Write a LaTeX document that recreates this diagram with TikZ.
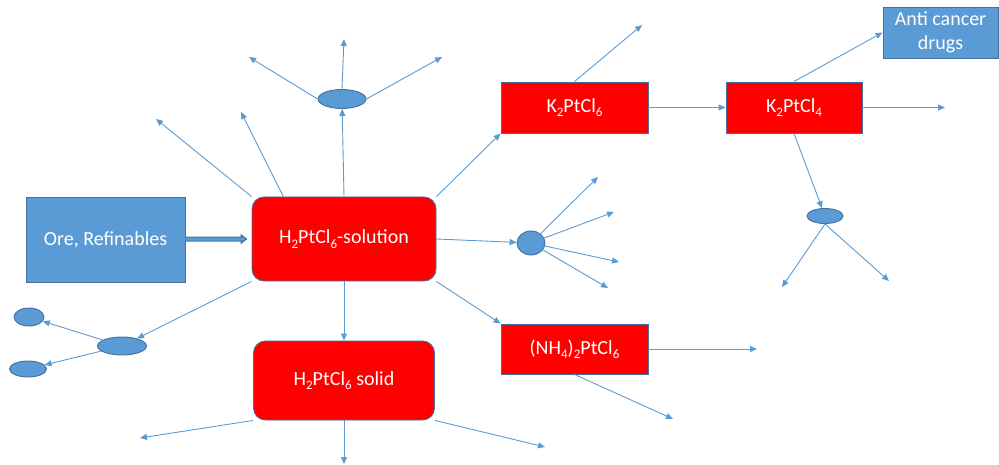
\documentclass[tikz,border=0pt]{standalone}
\usepackage{fontspec}
\setmainfont{Carlito}
\usepackage{tikz}
\usetikzlibrary{arrows.meta,shapes.geometric}
\definecolor{bfill}{HTML}{5B9BD5}
\definecolor{bline}{HTML}{41719C}
\definecolor{rfill}{HTML}{FF0000}
\newcommand{\chsub}[1]{\raisebox{-0.45ex}{\fontsize{13}{13}\selectfont #1}}

\begin{document}
\begin{tikzpicture}[x=1pt, y=-1pt,
    box/.style={draw=bline, line width=0.9pt, fill=rfill, text=white, align=center,
      inner sep=0pt, font=\fontsize{20}{24}\selectfont},
    rbox/.style={box, rounded corners=12pt},
    bbox/.style={box, fill=bfill},
    blob/.style={ellipse, draw=bline, line width=0.9pt, fill=bfill, inner sep=0pt},
    arr/.style={draw=bfill, line width=0.9pt, -{Triangle[length=7pt,width=6pt]}}]
    \useasboundingbox (0, 0) rectangle (999, 465);
    \node[bbox, minimum width=159pt, minimum height=85pt] (ore) at (105.5, 239.5) {Ore, Refinables};
    \node[rbox, minimum width=184pt, minimum height=84pt] (sol) at (344, 239) {H\chsub{2}PtCl\chsub{6}-solution};
    \node[rbox, minimum width=181pt, minimum height=79pt] (solid) at (344, 380.5) {H\chsub{2}PtCl\chsub{6} solid};
    \node[box, minimum width=147pt, minimum height=51pt] (k6) at (574.5, 107.5) {K\chsub{2}PtCl\chsub{6}};
    \node[box, minimum width=136pt, minimum height=51pt] (k4) at (794, 107.5) {K\chsub{2}PtCl\chsub{4}};
    \node[bbox, minimum width=115pt, minimum height=51pt] (drugs) at (940.5, 32.5) {Anti cancer\\drugs};
    \node[box, minimum width=147pt, minimum height=50pt] (nh) at (574.5, 349) {(NH\chsub{4})\chsub{2}PtCl\chsub{6}};
    \node[blob, minimum width=48pt, minimum height=19pt] (etop) at (342, 99) {};
    \node[blob, minimum width=28pt, minimum height=24pt] (emid) at (531, 243) {};
    \node[blob, minimum width=36pt, minimum height=15pt] (eright) at (825, 216) {};
    \node[blob, minimum width=49pt, minimum height=18pt] (ebl) at (122, 346) {};
    \node[blob, minimum width=30pt, minimum height=18pt] (es1) at (29, 317) {};
    \node[blob, minimum width=37pt, minimum height=16pt] (es2) at (28, 369) {};
    \coordinate (ua) at (156, 119);
    \coordinate (ub) at (241, 112);
    \coordinate (uc) at (344, 39);
    \coordinate (ud) at (249, 57);
    \coordinate (ue) at (442, 57);
    \coordinate (ma) at (598, 177);
    \coordinate (mb) at (614, 212);
    \coordinate (mc) at (619, 262);
    \coordinate (md) at (608, 288);
    \coordinate (sa) at (140, 438);
    \coordinate (sb) at (344, 464);
    \coordinate (sc) at (545, 447);
    \coordinate (ka) at (642, 25);
    \coordinate (kb) at (945, 107.5);
    \coordinate (ra) at (782, 287);
    \coordinate (rb) at (889, 281);
    \coordinate (na) at (757, 349);
    \coordinate (nb) at (673, 419);
    \draw [bline, line width=5pt, -{Triangle[length=7pt,width=10pt]}] (ore) to ([xshift=-4pt]sol.west);
    \draw [bfill, line width=3pt, shorten >=3pt] (ore) to ([xshift=-4pt]sol.west);
    \draw [arr] (sol.north west) to (ua);
    \draw [arr] (sol.145) to (ub);
    \draw [arr] (sol.north) to (etop);
    \draw [arr] (etop.north) to (uc);
    \draw [arr] (etop.west) to (ud);
    \draw [arr] (etop.east) to (ue);
    \draw [arr] (sol.north east) to (k6.south west);
    \draw [arr] (sol.east) to (emid);
    \draw [arr] (emid) to (ma);
    \draw [arr] (emid) to (mb);
    \draw [arr] (emid) to (mc);
    \draw [arr] (emid) to (md);
    \draw [arr] (sol.south east) to (nh.north west);
    \draw [arr] (sol.south) to (solid.north);
    \draw [arr] (sol.south west) to (ebl);
    \draw [arr] (ebl) to (es1);
    \draw [arr] (ebl) to (es2);
    \draw [arr] (solid.south west) to (sa);
    \draw [arr] (solid.south) to (sb);
    \draw [arr] (solid.south east) to (sc);
    \draw [arr] (k6) to (k4);
    \draw [arr] (k4.east) to (kb);
    \draw [arr] (k6.north) to (ka);
    \draw [arr] (k4.north) to (drugs.west);
    \draw [arr] (k4.south) to (eright);
    \draw [arr] (eright.south) to (ra);
    \draw [arr] (eright.south) to (rb);
    \draw [arr] (nh.east) to (na);
    \draw [arr] (nh.south) to (nb);
\end{tikzpicture}
\end{document}
